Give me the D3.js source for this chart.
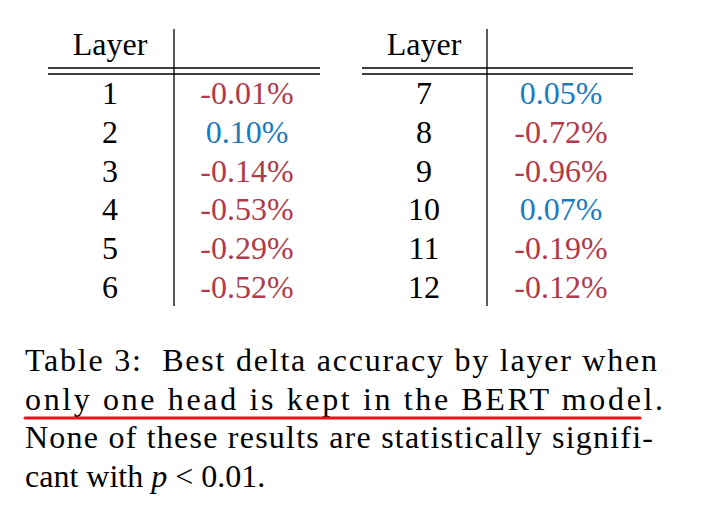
<!DOCTYPE html>
<html><head><meta charset="utf-8">
<script src="https://cdn.jsdelivr.net/npm/d3@7"></script>
<style>body{margin:0;background:#fff} text{font-family:"Liberation Serif","Times New Roman",Times,serif}</style>
</head><body>
<svg id="chart"></svg>
<script>
// table values, two halves
let layersLeft = [1, 2, 3, 4, 5, 6]
let deltasLeft = [-0.01, 0.10, -0.14, -0.53, -0.29, -0.52]
let layersRight = [7, 8, 9, 10, 11, 12]
let deltasRight = [0.05, -0.72, -0.96, 0.07, -0.19, -0.12]
let captionLines = [
    'Table 3:  Best delta accuracy by layer when',
    'only one head is kept in the BERT model.',
    'None of these results are statistically signifi-',
    'cant with '
]

let width = 720
let height = 510
let fs = 32
let red = '#b03a4a'
let blue = '#1b7bc0'

let svg = d3.select('#chart').attr('width', width).attr('height', height)

// row positions from a band scale
let yScale = d3.scaleBand().domain(d3.range(6)).range([74, 306])

const drawTable = (x0, x1, xSep, xLayer, xVal, layers, deltas) => {
    let g = svg.append('g')
    g.append('text').attr('x', xLayer).attr('y', 55).attr('text-anchor', 'middle')
        .attr('font-size', fs).text('Layer')
    g.append('line').attr('x1', xSep).attr('x2', xSep).attr('y1', 29).attr('y2', 306)
        .attr('stroke', '#000').attr('stroke-width', 1.3)
    ;[68, 74].forEach(y => {
        g.append('line').attr('x1', x0).attr('x2', x1).attr('y1', y).attr('y2', y)
            .attr('stroke', '#000').attr('stroke-width', 1.3)
    })
    g.selectAll('.layer').data(layers).enter().append('text')
        .attr('x', xLayer).attr('y', (d, i) => yScale(i) + yScale.bandwidth() / 2 + 11)
        .attr('text-anchor', 'middle').attr('font-size', fs)
        .text(d => d)
    g.selectAll('.val').data(deltas).enter().append('text')
        .attr('x', xVal).attr('y', (d, i) => yScale(i) + yScale.bandwidth() / 2 + 11)
        .attr('text-anchor', 'middle').attr('font-size', fs)
        .attr('fill', d => d >= 0 ? blue : red)
        .text(d => d.toFixed(2) + '%')
}

drawTable(48, 320, 174, 110, 247, layersLeft, deltasLeft)
drawTable(362, 633, 487, 424, 561, layersRight, deltasRight)

// caption, justified lines stretched to the column width
let lens = [632, 638, 628, null]
captionLines.forEach((t, i) => {
    let txt = svg.append('text').attr('x', 25).attr('y', 371 + i * 38.5)
        .attr('font-size', fs).attr('fill', '#000')
        .style('white-space', 'pre')
    if (lens[i]) txt.attr('textLength', lens[i]).attr('lengthAdjust', 'spacing')
    txt.text(t)
    if (i === 3) {
        txt.append('tspan').attr('font-style', 'italic').text('p')
        txt.append('tspan').text(' < 0.01.')
    }
})
svg.append('line').attr('x1', 25).attr('x2', 640).attr('y1', 418).attr('y2', 418)
    .attr('stroke', '#e8141c').attr('stroke-width', 3).attr('stroke-linecap', 'round')
</script>
</body></html>
